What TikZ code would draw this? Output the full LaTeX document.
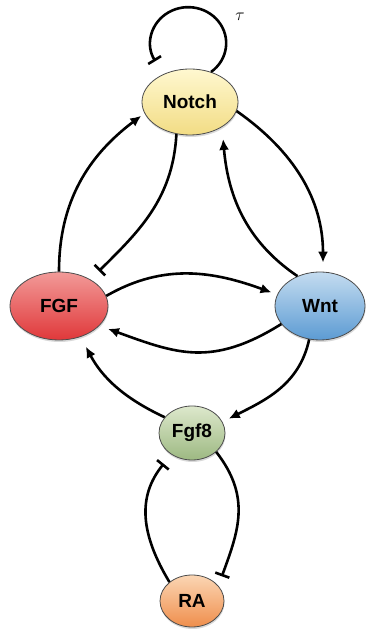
\documentclass[tikz,border=0pt]{standalone}
\usepackage{fontspec}
\setmainfont{Liberation Sans}
\usetikzlibrary{arrows.meta,shapes.geometric,shadows}
\definecolor{notchT}{HTML}{FFF8D0}
\definecolor{notchB}{HTML}{F2DC84}
\definecolor{fgfT}{HTML}{F29A98}
\definecolor{fgfB}{HTML}{E0383A}
\definecolor{wntT}{HTML}{C4DCF0}
\definecolor{wntB}{HTML}{5C9BD3}
\definecolor{gT}{HTML}{DDE8CC}
\definecolor{gB}{HTML}{9DB982}
\definecolor{raT}{HTML}{FBD6B4}
\definecolor{raB}{HTML}{EF8E4C}
\begin{document}
\begin{tikzpicture}[x=1pt,y=1pt,
  gene/.style={ellipse,draw=black!70,line width=0.8pt,inner sep=0pt,
    font=\fontsize{19}{19}\selectfont\bfseries,
    drop shadow={shadow xshift=0.5pt,shadow yshift=-2pt,opacity=0.3}},
  act/.style={line width=2.6pt,-{Latex[length=11pt,width=10pt]}},
  inh/.style={line width=2.6pt,-{Bar[width=15pt,line width=2.6pt]}}]
\useasboundingbox (0,0) rectangle (366,631);
\node[gene,minimum width=96pt,minimum height=66pt,top color=notchT,bottom color=notchB] (N) at (190,529) {Notch};
\node[gene,minimum width=98pt,minimum height=68pt,top color=fgfT,bottom color=fgfB] (F) at (59,325) {FGF};
\node[gene,minimum width=90pt,minimum height=68pt,top color=wntT,bottom color=wntB] (W) at (320,325) {Wnt};
\node[gene,minimum width=66pt,minimum height=54pt,top color=gT,bottom color=gB] (G) at (192,198) {Fgf8};
\node[gene,minimum width=64pt,minimum height=52pt,top color=raT,bottom color=raB] (R) at (192,30) {RA};
\node (tau) at (240,614) {\fontsize{18}{18}\selectfont$\tau$};
% self loop
\draw[inh] (N.55) arc[start angle=-53,end angle=210,x radius=38,y radius=36];
% FGF -> Notch
\draw[act,shorten >=4pt] (F.north) to[out=90,in=217] (N.194);
% Notch -| FGF
\draw[inh,shorten >=12pt] (N.247) to[out=-93,in=45] (F.40);
% Notch -> Wnt
\draw[act,shorten >=9pt] (N.349) to[out=-35,in=90] (W.85);
% Wnt -> Notch
\draw[act,shorten >=12pt] (W.127) to[out=146,in=-85] (N.322);
% FGF -> Wnt
\draw[act,shorten >=6pt] (F.12) to[out=30,in=160] (W.165);
% Wnt -> FGF
\draw[act,shorten >=9pt] (W.205) to[out=212,in=-20,looseness=1.15] (F.334);
% Fgf8 -> FGF
\draw[act,shorten >=11pt] (G.150) to[out=155,in=-62] (F.305);
% Wnt -> Fgf8
\draw[act,shorten >=7pt] (W.252) to[out=258,in=27] (G.20);
% RA -| Fgf8
\draw[inh,shorten >=12pt] (R.140) to[out=121,in=231,looseness=1.1] (G.226);
% Fgf8 -| RA
\draw[inh,shorten >=10pt] (G.322) to[out=-52,in=70,looseness=1.1] (R.30);
\end{tikzpicture}
\end{document}
